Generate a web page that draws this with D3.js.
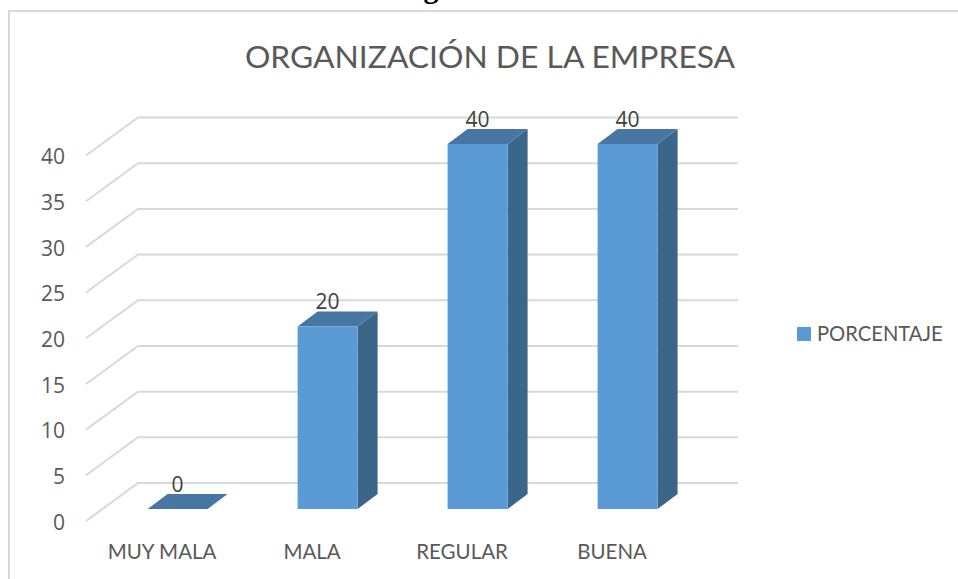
<!DOCTYPE html>
<html>
<head>
<meta charset="utf-8">
<script src="https://cdn.jsdelivr.net/npm/d3@7"></script>
<style>
  html, body { margin: 0; padding: 0; background: #fff; overflow: hidden; }
  text { font-family: Lato, "Open Sans", sans-serif; fill: #595959; }
</style>
</head>
<body>
<div id="chart"></div>
<script>
let categories = ['MUY MALA', 'MALA', 'REGULAR', 'BUENA'];
let porcentaje = [0, 20, 40, 40];
let yTicks = [0, 5, 10, 15, 20, 25, 30, 35, 40];
let seriesName = 'PORCENTAJE';
let chartTitle = 'ORGANIZACIÓN DE LA EMPRESA';

let width = 958, height = 579;

let svg = d3.select('#chart')
  .append('svg')
  .attr('width', width)
  .attr('height', height);

// the caption above the frame is cut off by the page, only this tail shows
svg.append('text')
  .attr('x', 431)
  .attr('y', -2)
  .attr('text-anchor', 'middle')
  .style('font-family', '"Liberation Serif", serif')
  .style('font-weight', 'bold')
  .style('font-size', '30px')
  .style('fill', '#000')
  .text('g');

// frame, runs off the right and bottom of the page
svg.append('path')
  .attr('d', 'M9,' + height + 'V11H' + width)
  .attr('fill', 'none')
  .attr('stroke', '#d9d9d9')
  .attr('stroke-width', 2);

// scales
let yFront = d3.scaleLinear().domain([0, 40]).range([521, 155.5]);
let yBar = d3.scaleLinear().domain([0, 40]).range([509, 144]);
let x = d3.scalePoint().domain(categories).range([177.6, 627.6]);

// walls: slanted floor lines + back lines
let wallDx = 52, wallDy = -38, wallLeft = 86, wallRight = 738;
let grid = svg.append('g').attr('fill', 'none').attr('stroke', '#d9d9d9').attr('stroke-width', 2);
grid.selectAll('path')
  .data(yTicks)
  .enter()
  .append('path')
  .attr('d', function (d) {
    let y0 = yFront(d);
    return 'M' + wallLeft + ',' + y0 + 'L' + (wallLeft + wallDx) + ',' + (y0 + wallDy) + 'H' + wallRight;
  });

// y labels
let yAxis = svg.append('g')
  .attr('transform', 'translate(65,1.5)')
  .call(d3.axisLeft(yFront).tickValues(yTicks).tickSize(0).tickPadding(0));
yAxis.select('.domain').remove();
yAxis.selectAll('text')
  .style('font-size', '21px')
  .style('font-family', '"Open Sans", sans-serif')
  .style('fill', '#595959');

// x labels
svg.append('g')
  .selectAll('text')
  .data(categories)
  .enter()
  .append('text')
  .attr('x', function (d) { return x(d) - 15.5; })
  .attr('y', 559)
  .attr('text-anchor', 'middle')
  .style('font-size', '20.5px')
  .text(function (d) { return d; });

// bars
let barW = 60, depthX = 20, depthY = -15;
let bars = svg.append('g')
  .selectAll('g')
  .data(categories.map(function (c, i) { return { cat: c, val: porcentaje[i] }; }))
  .enter()
  .append('g');

bars.append('path') // side
  .attr('fill', '#3b6689')
  .attr('d', function (d) {
    let r = x(d.cat) + barW / 2, t = yBar(d.val), b = yBar(0);
    return 'M' + r + ',' + t + 'L' + (r + depthX) + ',' + (t + depthY) + 'V' + (b + depthY) + 'L' + r + ',' + b + 'Z';
  });
bars.append('path') // top
  .attr('fill', '#4776a3')
  .attr('d', function (d) {
    let l = x(d.cat) - barW / 2, t = yBar(d.val);
    return 'M' + l + ',' + t + 'L' + (l + depthX) + ',' + (t + depthY) + 'H' + (l + depthX + barW) + 'L' + (l + barW) + ',' + t + 'Z';
  });
bars.append('rect') // front
  .attr('fill', '#5b9bd5')
  .attr('x', function (d) { return x(d.cat) - barW / 2; })
  .attr('y', function (d) { return yBar(d.val); })
  .attr('width', barW)
  .attr('height', function (d) { return yBar(0) - yBar(d.val); });

// value labels
bars.append('text')
  .attr('x', function (d) { return x(d.cat); })
  .attr('y', function (d) { return yBar(d.val) - 17.5; })
  .attr('text-anchor', 'middle')
  .style('font-size', '21px')
  .style('font-family', '"Open Sans", sans-serif')
  .style('fill', '#404040')
  .text(function (d) { return d.val; });

// title
svg.append('text')
  .attr('x', 490)
  .attr('y', 68)
  .attr('text-anchor', 'middle')
  .style('font-size', '31.8px')
  .text(chartTitle);

// legend
svg.append('rect')
  .attr('x', 797)
  .attr('y', 327)
  .attr('width', 14)
  .attr('height', 14)
  .attr('fill', '#5b9bd5');
svg.append('text')
  .attr('x', 817)
  .attr('y', 341)
  .style('font-size', '20.2px')
  .text(seriesName);
</script>
</body>
</html>
